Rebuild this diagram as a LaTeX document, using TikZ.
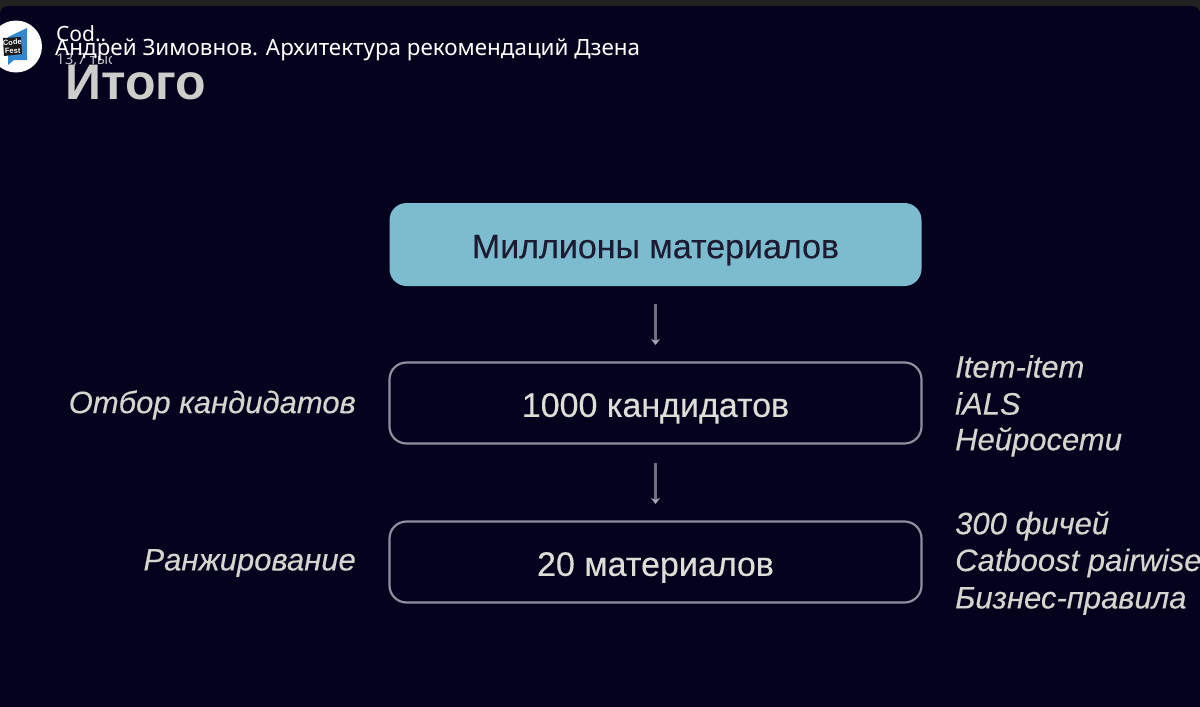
\documentclass[tikz,border=0pt]{standalone}
\usepackage{fontspec}
\setmainfont[FakeBold=0.25]{Liberation Sans}
\newfontfamily\plainf{Liberation Sans}
\newfontfamily\robo{Noto Sans}
\definecolor{bgc}{HTML}{04021C}
\definecolor{topc}{HTML}{212121}
\definecolor{teal}{HTML}{7DBCCE}
\definecolor{edgec}{HTML}{8F8E9E}
\definecolor{txt}{HTML}{DEDED8}
\definecolor{arrc}{HTML}{6E6E82}
\usetikzlibrary{arrows.meta}
\tikzset{
 x=1pt,y=-1pt,
 box/.style={draw=edgec,line width=2.2pt,rounded corners=17pt,minimum width=532pt,minimum height=81pt,inner sep=0pt,text=txt,text depth=0pt,font=\fontsize{34}{36}\selectfont},
 tealbox/.style={box,draw=none,fill=teal,minimum height=83pt,text=bgc!90!white},
 side/.style={text=txt!90!gray,font=\fontsize{31}{36}\selectfont\itshape,inner sep=0pt},
 lab/.style={side,anchor=east},
 meth/.style={side,anchor=west},
 conn/.style={draw=arrc,line width=2.4pt,-{Stealth[length=6pt,width=9pt,color=arrc!60!white]}},
 ui/.style={text=white,inner sep=0pt,anchor=west,font=\robo\fontsize{22.4}{24}\selectfont},
 small/.style={text=white!75!bgc,inner sep=0pt,anchor=west,font=\robo\fontsize{15}{18}\selectfont}
}
\begin{document}
\begin{tikzpicture}
\useasboundingbox (0,0) rectangle (1200,707);
\fill[topc] (0,0) rectangle (1200,707);
\fill[bgc,rounded corners=8pt] (0,6) rectangle (1200,720);
% logo
\fill[white] (16,46.5) circle (26);
\fill[cyan!60!blue!85!white] (8,37) -- (27,28) -- (27,60) -- (14,60) -- (8,65) -- (8,56) -- cycle;
\fill[black!90] (3,38) -- (21,37) -- (22,54) -- (4,56) -- cycle;
\node[text=white,inner sep=0pt,align=center,rotate=3,font=\plainf\bfseries\fontsize{7.5}{8.5}\selectfont] (logo) at (12.5,46.5) {Code\\Fest};
% channel text, clipped
\begin{scope}
\clip (50,20) rectangle (111,75);
\node[ui,font=\robo\fontsize{21}{24}\selectfont] (chan) at (56,34) {Cod..};
\node[small] (views) at (56,60) {13,7 тыс};
\end{scope}
\node[ui] (title) at (55,50) {Андрей Зимовнов. Архитектура рекомендаций Дзена};
\node[text=txt!92!bgc,inner sep=0pt,anchor=west,font=\plainf\bfseries\fontsize{50}{52}\selectfont] (itogo) at (65,83) {Итого};
% boxes
\node[tealbox] (a) at (655.5,244.5) {\raisebox{-4pt}{Миллионы материалов}};
\node[box] (b) at (655.5,403) {\raisebox{-4pt}{1000 кандидатов}};
\node[box] (c) at (655.5,562) {\raisebox{-4pt}{20 материалов}};
\coordinate (a1) at (655.5,304);
\coordinate (a2) at (655.5,345);
\coordinate (b1) at (655.5,463);
\coordinate (b2) at (655.5,504);
\draw[conn] (a1) -- (a2);
\draw[conn] (b1) -- (b2);
\node[lab] (l1) at (356,405) {Отбор кандидатов};
\node[lab] (l2) at (356,563) {Ранжирование};
\node[meth] (m1) at (955,366.5) {Item-item};
\node[meth] (m2) at (955,403.5) {iALS};
\node[meth] (m3) at (955,442) {Нейросети};
\node[meth] (m4) at (955,526) {300 фичей};
\node[meth] (m5) at (955,563) {Catboost pairwise};
\node[meth] (m6) at (955,601) {Бизнес-правила};
\end{tikzpicture}
\end{document}
